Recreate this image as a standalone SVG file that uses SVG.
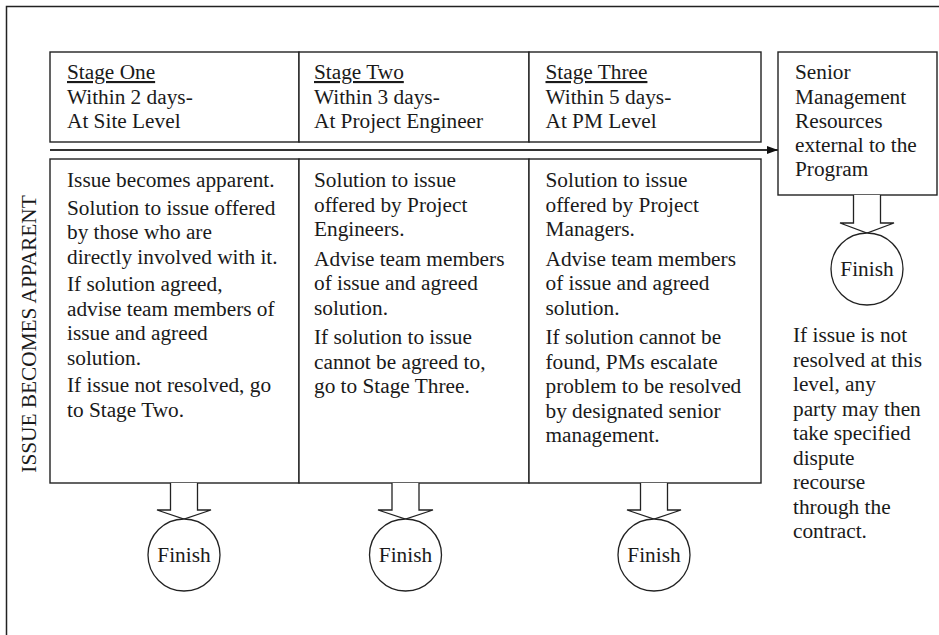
<svg xmlns="http://www.w3.org/2000/svg" width="939" height="635" viewBox="0 0 939 635">
<defs>
<style>
text{font-family:"Liberation Serif","Times New Roman",serif;font-size:21.3px;fill:#1a1a1a}
.box{fill:#fff;stroke:#222;stroke-width:1.4}
.frame{fill:none;stroke:#222;stroke-width:1.5}
.blk{fill:#fff;stroke:#222;stroke-width:1.3}
.line{stroke:#333;stroke-width:2;fill:none}
.fin{text-anchor:middle}
.u{text-decoration:underline}
</style>
<marker id="ah" markerWidth="11" markerHeight="8" refX="11" refY="4" orient="auto" markerUnits="userSpaceOnUse">
<path d="M0,0 L11,4 L0,8 Z" fill="#111"/>
</marker>
</defs>
<rect width="939" height="635" fill="#fff"/>
<path class="frame" d="M6.5,640 V6.5 H945"/>

<g id="side-label">
<text transform="translate(36,334) rotate(-90)" text-anchor="middle">ISSUE BECOMES APPARENT</text>
</g>

<g id="stage1-header">
<rect class="box" x="50" y="52" width="249" height="90"/>
<text x="67" y="79" class="u">Stage One</text>
<text x="67" y="103.5">Within 2 days-</text>
<text x="67" y="128">At Site Level</text>
</g>
<g id="stage2-header">
<rect class="box" x="299" y="52" width="230" height="90"/>
<text x="314" y="79" class="u">Stage Two</text>
<text x="314" y="103.5">Within 3 days-</text>
<text x="314" y="128">At Project Engineer</text>
</g>
<g id="stage3-header">
<rect class="box" x="529" y="52" width="232" height="90"/>
<text x="545.5" y="79" class="u">Stage Three</text>
<text x="545.5" y="103.5">Within 5 days-</text>
<text x="545.5" y="128">At PM Level</text>
</g>

<g id="senior">
<rect class="box" x="778" y="52" width="159" height="143"/>
<text x="795" y="79">Senior</text>
<text x="795" y="103.5">Management</text>
<text x="795" y="127.5">Resources</text>
<text x="795" y="152">external to the</text>
<text x="795" y="176">Program</text>
</g>

<g id="stage1-body">
<rect class="box" x="50" y="159" width="249" height="324"/>
<text x="67" y="187">Issue becomes apparent.</text>
<text x="67" y="214.5">Solution to issue offered</text>
<text x="67" y="239">by those who are</text>
<text x="67" y="263.5">directly involved with it.</text>
<text x="67" y="291">If solution agreed,</text>
<text x="67" y="315.5">advise team members of</text>
<text x="67" y="340">issue and agreed</text>
<text x="67" y="364.5">solution.</text>
<text x="67" y="392">If issue not resolved, go</text>
<text x="67" y="416.5">to Stage Two.</text>
</g>
<g id="stage2-body">
<rect class="box" x="299" y="159" width="230" height="324"/>
<text x="314" y="187">Solution to issue</text>
<text x="314" y="211.5">offered by Project</text>
<text x="314" y="236">Engineers.</text>
<text x="314" y="265.5">Advise team members</text>
<text x="314" y="290">of issue and agreed</text>
<text x="314" y="314.5">solution.</text>
<text x="314" y="344">If solution to issue</text>
<text x="314" y="368.5">cannot be agreed to,</text>
<text x="314" y="393">go to Stage Three.</text>
</g>
<g id="stage3-body">
<rect class="box" x="529" y="159" width="232" height="324"/>
<text x="545.5" y="187">Solution to issue</text>
<text x="545.5" y="211.5">offered by Project</text>
<text x="545.5" y="236">Managers.</text>
<text x="545.5" y="265.5">Advise team members</text>
<text x="545.5" y="290">of issue and agreed</text>
<text x="545.5" y="314.5">solution.</text>
<text x="545.5" y="344">If solution cannot be</text>
<text x="545.5" y="368.5">found, PMs escalate</text>
<text x="545.5" y="393">problem to be resolved</text>
<text x="545.5" y="417.5">by designated senior</text>
<text x="545.5" y="442">management.</text>
</g>

<g id="note">
<text x="793" y="342">If issue is not</text>
<text x="793" y="366.5">resolved at this</text>
<text x="793" y="391">level, any</text>
<text x="793" y="415.5">party may then</text>
<text x="793" y="440">take specified</text>
<text x="793" y="464.5">dispute</text>
<text x="793" y="489">recourse</text>
<text x="793" y="513.5">through the</text>
<text x="793" y="538">contract.</text>
</g>

<g id="connectors">
<line class="line" x1="50" y1="150" x2="778" y2="150" marker-end="url(#ah)"/>
<path class="blk" d="M170.5,483 V510 H157 L184,519 L211,510 H197.5 V483"/>
<path class="blk" d="M392,483 V510 H378 L405.5,519 L433,510 H419 V483"/>
<path class="blk" d="M640.5,483 V510 H627 L654,519 L681,510 H667.5 V483"/>
<path class="blk" d="M853.5,195 V223 H840 L867,233 L894,223 H880.5 V195"/>
</g>

<g id="finish1">
<circle class="blk" cx="184" cy="555" r="36"/>
<text class="fin" x="184" y="562">Finish</text>
</g>
<g id="finish2">
<circle class="blk" cx="405.5" cy="555" r="36"/>
<text class="fin" x="405.5" y="562">Finish</text>
</g>
<g id="finish3">
<circle class="blk" cx="654" cy="555" r="36"/>
<text class="fin" x="654" y="562">Finish</text>
</g>
<g id="finish4">
<circle class="blk" cx="867" cy="269" r="36"/>
<text class="fin" x="867" y="276">Finish</text>
</g>
</svg>
